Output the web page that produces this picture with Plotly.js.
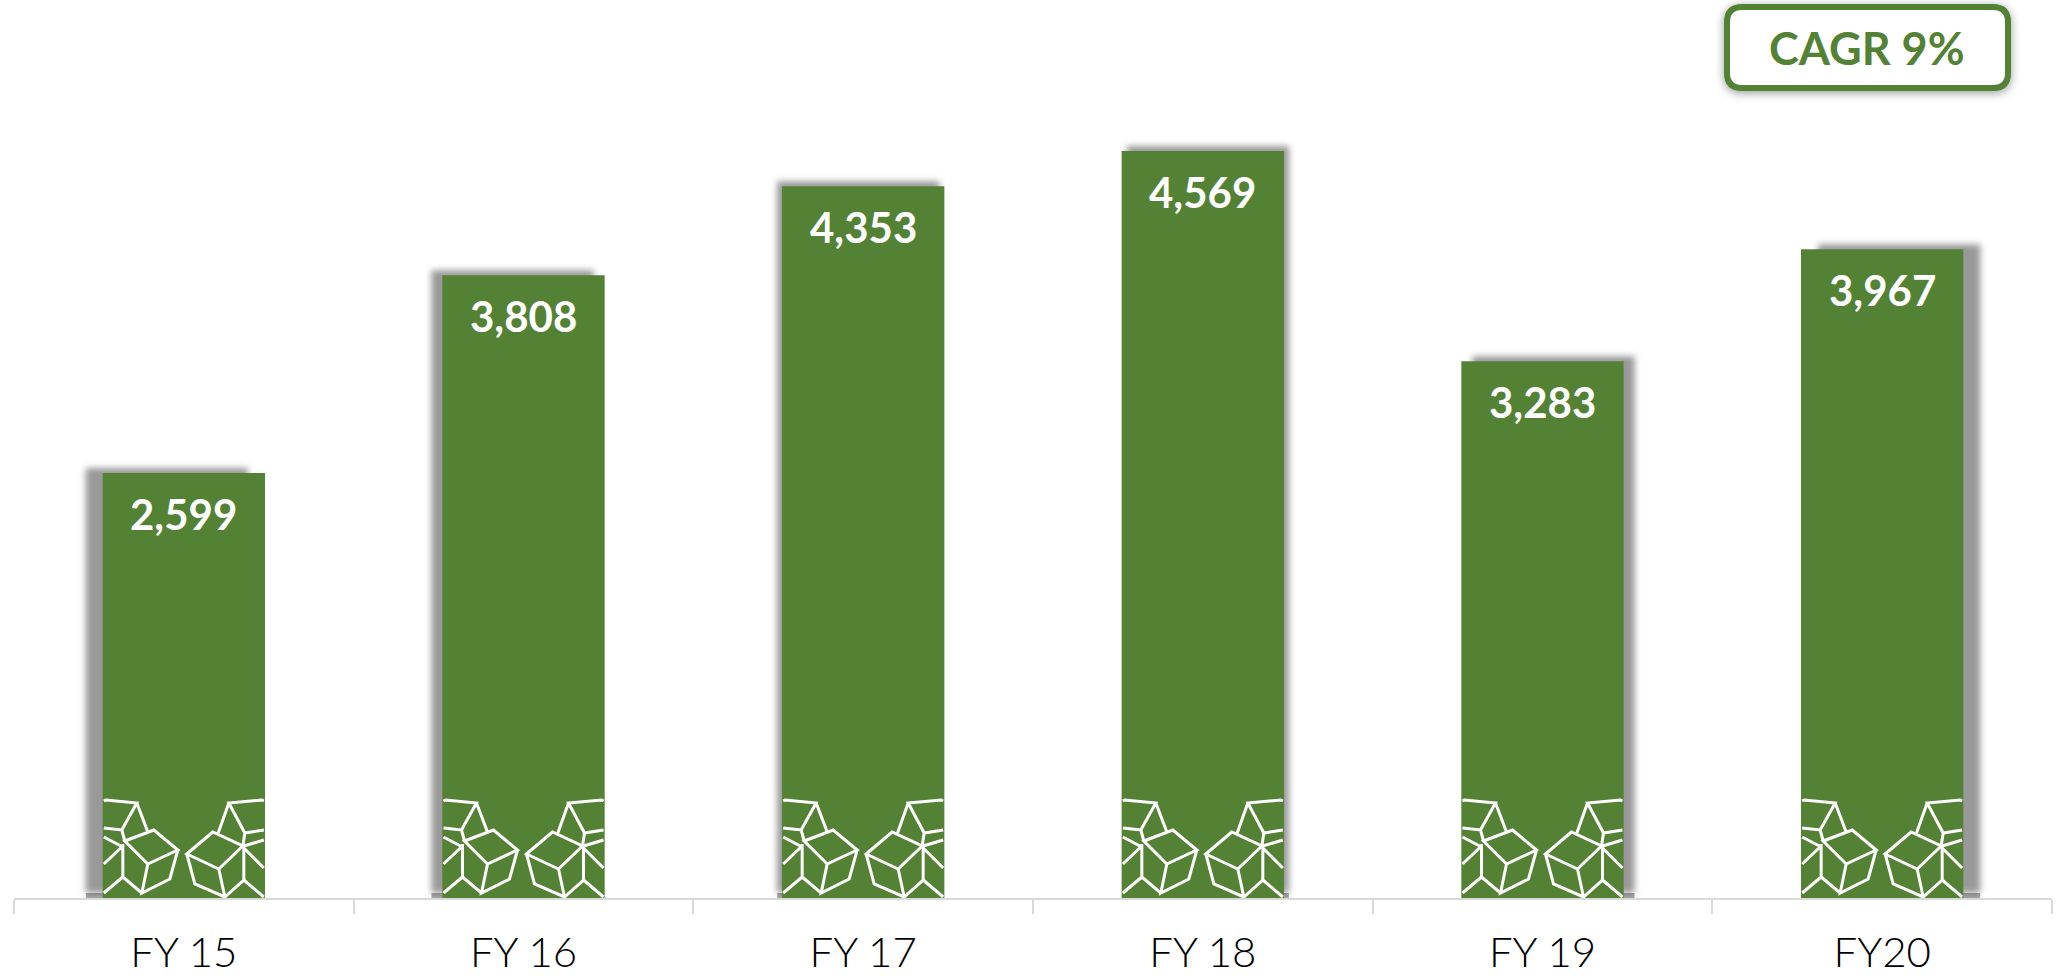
<!DOCTYPE html>
<html><head><meta charset="utf-8">
<script src="https://cdn.plot.ly/plotly-3.0.1.min.js"></script>
<style>
html,body{margin:0;padding:0;background:#fff}
#c{width:2060px;height:977px}
</style></head><body><div id="c"></div>
<script>
const categories=["FY 15","FY 16","FY 17","FY 18","FY 19","FY20"];
const revenue=[2599,3808,4353,4569,3283,3967];
const labels=["2,599","3,808","4,353","4,569","3,283","3,967"];
const shadowOffsets=[-17,-11,-5,5,11,17];
const badgeText="CAGR 9%";
const green="#548235";

// icon strokes, in pixels from the foot of a bar's centre
const cubePath=[
"M-80,97 L-78,98 L-47,95 L-62,68 L-80,70","M-47,95 L-36,66","M-62,68 L-59,57",
"M-59,57 L-30,68 L-6,48 L-36,34 Z","M-6,48 L-14,19 L-42,5 L-36,34",
"M-61,54 L-61,21 L-42,5","M-61,21 L-80,5","M-61,52 L-80,34","M-61,51 L-80,61",
"M80,97 L78,98 L45,95 L61,65 L80,68","M45,95 L34,64","M61,65 L59,52",
"M29,66 L3,44 L35,29 L59,52 Z","M3,44 L11,14 L41,1 L35,29",
"M60,52 L60,18 L41,1","M60,18 L80,1","M60,50 L80,30","M60,52 L80,58"
].join(" ");

const shapes=categories.map((c,i)=>({
  type:"rect",layer:"below",xref:"x",yref:"y",
  xsizemode:"pixel",ysizemode:"pixel",xanchor:c,yanchor:0,
  x0:-81+shadowOffsets[i],x1:81+shadowOffsets[i],y0:0,y1:5,
  fillcolor:"#a6a6a6",line:{width:0}
}));
categories.forEach(c=>shapes.push({
  type:"path",layer:"above",xref:"x",yref:"y",
  xsizemode:"pixel",ysizemode:"pixel",xanchor:c,yanchor:0,
  path:cubePath,line:{color:"#fff",width:3}
}));
shapes.push({type:"path",layer:"above",xref:"paper",yref:"paper",
  xsizemode:"pixel",ysizemode:"pixel",xanchor:1,yanchor:1,
  path:"M-325,-22 Q-325,-7 -310,-7 L-59,-7 Q-44,-7 -44,-22 L-44,-73 Q-44,-88 -59,-88 L-310,-88 Q-325,-88 -325,-73 Z",
  fillcolor:"#fff",line:{color:green,width:6}});

const annotations=categories.map((c,i)=>({
  x:c,y:revenue[i],xref:"x",yref:"y",yanchor:"top",yshift:-14,showarrow:false,
  text:"<b>"+labels[i]+"</b>",font:{family:"Lato",size:42,color:"#fff"}
}));
annotations.push({xref:"paper",yref:"paper",x:(1867-14)/2038,y:(898-48)/898,xanchor:"center",yanchor:"middle",showarrow:false,
  text:"<b>"+badgeText+"</b>",font:{family:"Lato",size:45,color:green}});

Plotly.newPlot("c",[{type:"bar",x:categories,y:revenue,marker:{color:green},width:0.478,hoverinfo:"skip"}],{
  width:2060,height:977,margin:{l:14,r:8,t:0,b:79,pad:0},
  paper_bgcolor:"#fff",plot_bgcolor:"#fff",showlegend:false,
  xaxis:{type:"category",categoryorder:"array",categoryarray:categories,
    tickmode:"array",tickvals:categories,ticktext:categories,
    ticks:"outside",ticklen:14,tickwidth:2,tickcolor:"#d9d9d9",tickson:"boundaries",
    showline:true,linecolor:"#d9d9d9",linewidth:2,showgrid:false,zeroline:false,
    ticklabelstandoff:17,
    tickfont:{family:"Lato",size:42,weight:300,color:"#000"}},
  yaxis:{range:[0,5492],visible:false,showgrid:false,zeroline:false},
  shapes,annotations
},{staticPlot:true,displayModeBar:false}).then(gd=>{
  gd.querySelectorAll(".bars .point path").forEach((p,i)=>{
    p.style.filter="drop-shadow("+shadowOffsets[i]+"px -5px 3px rgba(0,0,0,.4))";
  });
  const sh=gd.querySelectorAll(".shapelayer path");
  const last=sh[sh.length-1];
  if(last) last.style.filter="drop-shadow(0 2px 5px rgba(0,0,0,.4))";
});
</script></body></html>
